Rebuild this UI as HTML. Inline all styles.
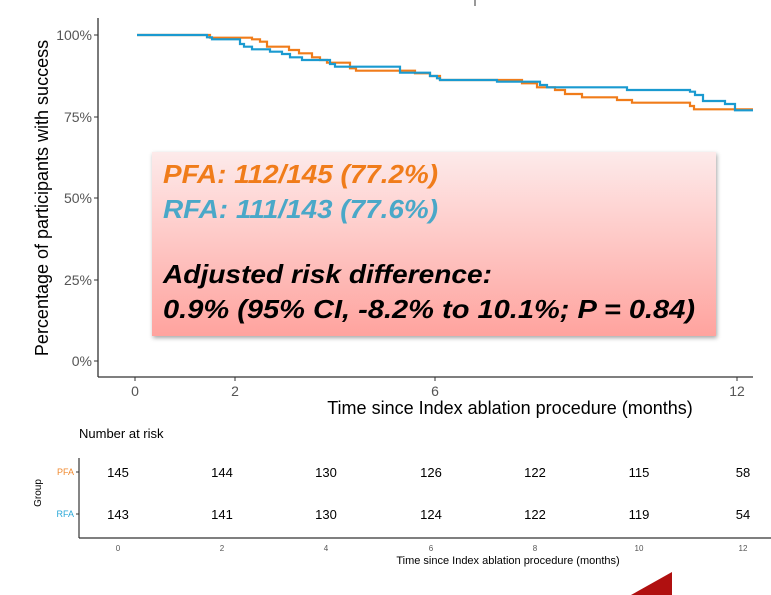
<!DOCTYPE html>
<html><head><meta charset="utf-8"><style>
html,body{margin:0;padding:0;background:#fff;width:771px;height:595px;overflow:hidden}
svg{display:block;font-family:"Liberation Sans",sans-serif}
</style></head><body>
<svg width="771" height="595" viewBox="0 0 771 595">
<defs>
<linearGradient id="g" x1="0" y1="0" x2="0" y2="1">
<stop offset="0" stop-color="#fdeaea"/><stop offset="1" stop-color="#ffa39e"/>
</linearGradient>
<filter id="sh" x="-5%" y="-5%" width="110%" height="115%"><feDropShadow dx="1" dy="2" stdDeviation="2" flood-color="#000" flood-opacity="0.35"/></filter>
</defs>
<line x1="475" y1="0" x2="475" y2="6" stroke="#333" stroke-width="1"/>
<!-- axes -->
<line x1="98" y1="18" x2="98" y2="377" stroke="#333" stroke-width="1.3"/>
<line x1="98" y1="377" x2="753" y2="377" stroke="#333" stroke-width="1.3"/>
<g stroke="#333" stroke-width="1">
<line x1="94" y1="35" x2="98" y2="35"/><line x1="94" y1="117" x2="98" y2="117"/><line x1="94" y1="198" x2="98" y2="198"/><line x1="94" y1="280" x2="98" y2="280"/><line x1="94" y1="361" x2="98" y2="361"/>
<line x1="135" y1="377" x2="135" y2="381"/><line x1="235" y1="377" x2="235" y2="381"/><line x1="435" y1="377" x2="435" y2="381"/><line x1="737" y1="377" x2="737" y2="381"/>
</g>
<g fill="#555" font-size="14" text-anchor="end">
<text x="92" y="40">100%</text><text x="92" y="122">75%</text><text x="92" y="203">50%</text><text x="92" y="285">25%</text><text x="92" y="366">0%</text>
</g>
<g fill="#555" font-size="14" text-anchor="middle">
<text x="135" y="396">0</text><text x="235" y="396">2</text><text x="435" y="396">6</text><text x="737" y="396">12</text>
</g>
<text x="510" y="414" font-size="18" text-anchor="middle" fill="#000">Time since Index ablation procedure (months)</text>
<text transform="translate(48,198) rotate(-90)" font-size="18" text-anchor="middle" fill="#000">Percentage of participants with success</text>
<!-- curves -->
<path fill="none" stroke="#F07C1A" stroke-width="2.2" d="M137,35 H210 V37.7 H252 V39.3 H260 V41.7 H267 V46.7 H289 V50 H299 V53.3 H312 V57.3 H320 V60 H327 V62.7 H350 V68.3 H356 V70.7 H415 V73.3 H430 V76 H440 V80 H522 V83.3 H537 V87.3 H555 V90 H565 V94 H582 V97.3 H617 V100 H632 V102.7 H690 V106 H694 V109.3 H753"/>
<path fill="none" stroke="#1A9AD0" stroke-width="2.2" d="M137,35 H207 V37.3 H212 V39.3 H240 V44 H244 V46.7 H252 V49.3 H270 V51.7 H282 V54 H290 V57.3 H302 V60 H330 V64 H335 V66.7 H400 V72.7 H430 V76 H437 V78.3 H440 V80 H497 V81.7 H540 V85 H547 V87.3 H627 V90 H690 V91.7 H695 V95 H703 V101 H725 V104 H735 V110.3 H753"/>
<!-- box -->
<rect x="152" y="152" width="564" height="184" fill="url(#g)" filter="url(#sh)"/>
<g font-size="26" font-weight="bold" font-style="italic">
<text x="163" y="183" fill="#F07C1A" textLength="275" lengthAdjust="spacingAndGlyphs">PFA: 112/145 (77.2%)</text>
<text x="163" y="218" fill="#4AA8C8" textLength="275" lengthAdjust="spacingAndGlyphs">RFA: 111/143 (77.6%)</text>
<text x="163" y="283" fill="#000" textLength="329" lengthAdjust="spacingAndGlyphs">Adjusted risk difference:</text>
<text x="163" y="318" fill="#000" textLength="532" lengthAdjust="spacingAndGlyphs">0.9% (95% CI, -8.2% to 10.1%; P = 0.84)</text>
</g>
<!-- risk table -->
<text x="79" y="438" font-size="13" fill="#000">Number at risk</text>
<line x1="79" y1="458" x2="79" y2="538" stroke="#333" stroke-width="1.2"/>
<line x1="79" y1="538" x2="771" y2="538" stroke="#333" stroke-width="1.2"/>
<line x1="76" y1="472" x2="79" y2="472" stroke="#333"/><line x1="76" y1="514" x2="79" y2="514" stroke="#333"/>
<text x="74" y="475" font-size="9" fill="#F08A30" text-anchor="end">PFA</text>
<text x="74" y="517" font-size="9" fill="#2AA8D8" text-anchor="end">RFA</text>
<text transform="translate(41,493) rotate(-90)" font-size="10" text-anchor="middle" fill="#000">Group</text>
<g font-size="13" text-anchor="middle" fill="#000">
<text x="118" y="477">145</text><text x="222" y="477">144</text><text x="326" y="477">130</text><text x="431" y="477">126</text><text x="535" y="477">122</text><text x="639" y="477">115</text><text x="743" y="477">58</text>
<text x="118" y="519">143</text><text x="222" y="519">141</text><text x="326" y="519">130</text><text x="431" y="519">124</text><text x="535" y="519">122</text><text x="639" y="519">119</text><text x="743" y="519">54</text>
</g>
<g font-size="8" text-anchor="middle" fill="#555">
<text x="118" y="551">0</text><text x="222" y="551">2</text><text x="326" y="551">4</text><text x="431" y="551">6</text><text x="535" y="551">8</text><text x="639" y="551">10</text><text x="743" y="551">12</text>
</g>
<text x="508" y="564" font-size="11" text-anchor="middle" fill="#000">Time since Index ablation procedure (months)</text>
<polygon points="631,595 672,572 672,595" fill="#B01010"/>
</svg>
</body></html>
